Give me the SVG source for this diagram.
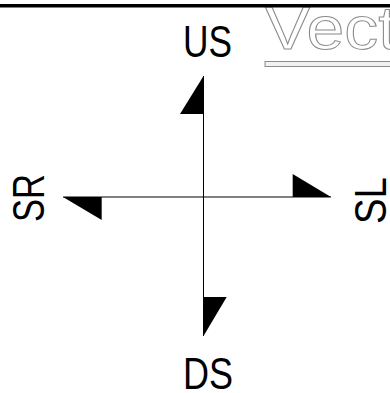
<svg xmlns="http://www.w3.org/2000/svg" width="390" height="393" viewBox="0 0 390 393">
  <style>
    .lbl { font-family: "Liberation Sans", "DejaVu Sans", sans-serif; font-size: 44px; fill: #000; }
    .axis { stroke: #000; stroke-width: 1; fill: none; }
    .head { fill: #000; stroke: none; }
    .title { font-family: "Liberation Sans", "DejaVu Sans", sans-serif; font-size: 61px; fill: #fff; stroke: #8c8c8c; stroke-width: 1; }
  </style>
  <rect x="0" y="0" width="390" height="393" fill="#fff"/>
  <g id="title">
    <text class="title" x="265" y="49" textLength="132" lengthAdjust="spacingAndGlyphs">Vect</text>
    <rect x="265" y="61.5" width="130" height="5" fill="#f2f2f2" stroke="#8c8c8c" stroke-width="1"/>
  </g>
  <rect id="top-bar" x="0" y="4" width="390" height="3.5" fill="#000"/>
  <g id="connectors">
    <line class="axis" x1="203.5" y1="76" x2="203.5" y2="336"/>
    <line class="axis" x1="63" y1="197" x2="331" y2="197"/>
    <polygon class="head" points="203.5,76 180,114 203.5,114"/>
    <polygon class="head" points="292.7,174 292.7,197 331,197"/>
    <polygon class="head" points="63,197 101.7,197 101.7,220"/>
    <polygon class="head" points="203.5,297 226.7,297 203.5,336"/>
  </g>
  <g id="node-us">
    <text class="lbl" x="183" y="57" textLength="49" lengthAdjust="spacingAndGlyphs">US</text>
  </g>
  <g id="node-ds">
    <text class="lbl" x="183" y="388.5" textLength="50" lengthAdjust="spacingAndGlyphs">DS</text>
  </g>
  <g id="node-sr">
    <text class="lbl" transform="translate(44,222) rotate(-90)" x="0" y="0" textLength="48" lengthAdjust="spacingAndGlyphs">SR</text>
  </g>
  <g id="node-sl">
    <text class="lbl" transform="translate(386,224) rotate(-90)" x="0" y="0" textLength="47" lengthAdjust="spacingAndGlyphs">SL</text>
  </g>
</svg>
